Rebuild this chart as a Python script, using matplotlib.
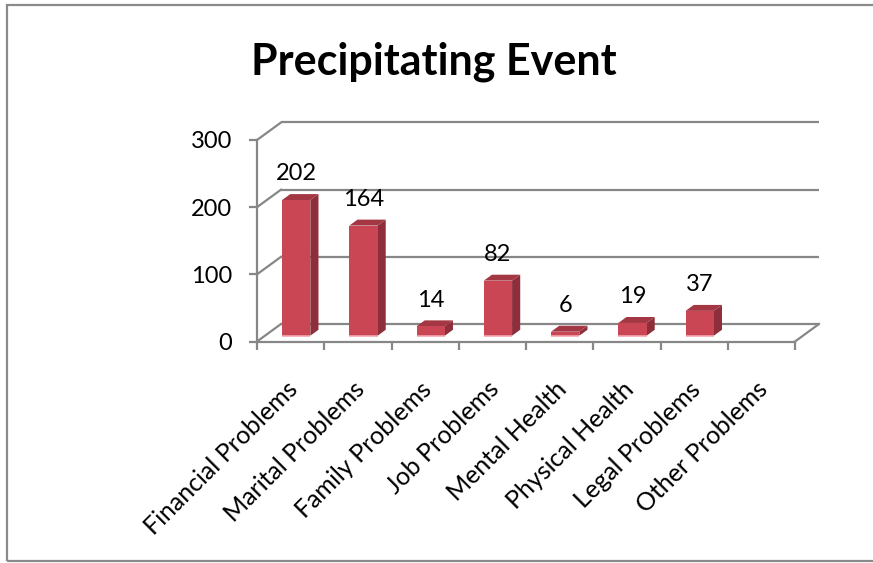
import matplotlib
matplotlib.use("Agg")
import matplotlib.pyplot as plt
from matplotlib.patches import Polygon, Rectangle

categories = ["Financial Problems", "Marital Problems", "Family Problems", "Job Problems",
              "Mental Health", "Physical Health", "Legal Problems", "Other Problems"]
values = [202, 164, 14, 82, 6, 19, 37, None]
yticks = [0, 100, 200, 300]
title = "Precipitating Event"

plt.rcParams['font.family'] = ['Lato', 'DejaVu Sans']

W, H = 873, 563
fig = plt.figure(figsize=(W / 100, H / 100), dpi=100)
fig.patch.set_facecolor('white')

# figure border
fig.add_artist(Rectangle((7 / W, 2 / H), 2.0, 1 - 7 / H, transform=fig.transFigure,
                         fill=False, edgecolor='#8a8a8a', lw=1.6))

x0, x1 = 257, 795
y0, y1 = 341.5, 140
ax = fig.add_axes([x0 / W, 1 - y0 / H, (x1 - x0) / W, (y0 - y1) / H])
n = len(categories)
ax.set_xlim(0, n)
ax.set_ylim(0, 300)
ax.set_facecolor('none')

ddx = 24 / ((x1 - x0) / n)
ddy = 17.5 / ((y0 - y1) / 300)

gray = '#878787'
glw = 1.6
for t in yticks:
    ax.plot([ddx, n + ddx], [t + ddy, t + ddy], color=gray, lw=glw, clip_on=False,
            zorder=1, solid_capstyle='butt')
    ax.plot([0, ddx], [t, t + ddy], color=gray, lw=glw, clip_on=False, zorder=1)
ax.plot([n, n + ddx], [0, ddy], color=gray, lw=glw, clip_on=False, zorder=1)

for s in ['top', 'right']:
    ax.spines[s].set_visible(False)
for s in ['left', 'bottom']:
    ax.spines[s].set_color(gray)
    ax.spines[s].set_linewidth(glw)

ax.set_yticks(yticks)
ax.set_yticklabels([str(t) for t in yticks])
ax.tick_params(axis='y', length=6, width=glw, color=gray, labelsize=17, pad=12)
ax.set_xticks(range(n + 1))
ax.set_xticklabels([])
ax.tick_params(axis='x', length=6, width=glw, color=gray)

for i, lab in enumerate(categories):
    ax.annotate(lab, xy=(i + 0.5, 0), xytext=(3, -44), textcoords='offset pixels',
                ha='right', va='center', rotation=45, rotation_mode='anchor',
                fontsize=18, annotation_clip=False)

f0, f1 = 0.33, 0.67
w = 0.42
shift = -0.035
front_c = '#cb4655'
side_c = '#8e2e3a'
top_c = '#a33743'
for i, v in enumerate(values):
    if v is None:
        continue
    c = i + 0.5 + shift
    xl = c - w / 2 + f0 * ddx
    xr = c + w / 2 + f0 * ddx
    yb = f0 * ddy
    yt = v + f0 * ddy
    dx2 = (f1 - f0) * ddx
    dy2 = (f1 - f0) * ddy
    ax.add_patch(Polygon([(xr, yb), (xr + dx2, yb + dy2), (xr + dx2, yt + dy2), (xr, yt)],
                         closed=True, facecolor=side_c, edgecolor='none', zorder=3, clip_on=False))
    ax.add_patch(Polygon([(xl, yt), (xr, yt), (xr + dx2, yt + dy2), (xl + dx2, yt + dy2)],
                         closed=True, facecolor=top_c, edgecolor='none', zorder=3, clip_on=False))
    ax.add_patch(Polygon([(xl, yb), (xr, yb), (xr, yt), (xl, yt)],
                         closed=True, facecolor=front_c, edgecolor='none', zorder=4, clip_on=False))
    ax.plot([xl, xr], [yb, yb], color='#f2a7ae', lw=1.2, zorder=5, clip_on=False,
            solid_capstyle='butt')
    ax.text(c + f0 * ddx, v + f1 * ddy + 30, str(v), ha='center', va='center',
            fontsize=17, zorder=6)

fig.text(434 / W, 1 - 62 / H, title, ha='center', va='center', fontsize=31,
         fontweight='bold')

fig.savefig('out.png', dpi=100)
